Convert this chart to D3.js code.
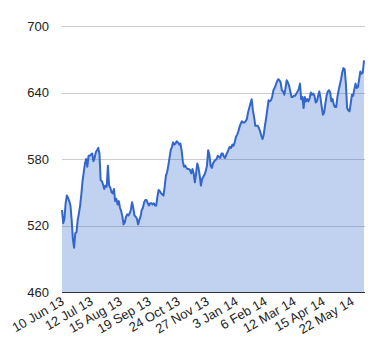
<!DOCTYPE html>
<html>
<head>
<meta charset="utf-8">
<script src="https://cdn.jsdelivr.net/npm/d3@7/dist/d3.min.js"></script>
<style>
  html, body { margin: 0; padding: 0; background: #fff; }
  svg { display: block; }
  text { font-family: Arial, "Liberation Sans", sans-serif; }
</style>
</head>
<body>
<svg id="chart" width="380" height="360"></svg>
<script>
// Daily closing values (trading days)
const values = [
  534, 522, 526, 540, 547, 545, 542, 538, 525, 508,
  500, 513, 514, 525, 531, 538, 548, 560, 568, 576,
  580, 573, 583, 583, 584, 585, 578, 581, 586, 588,
  590, 585, 561, 560, 557, 553, 556, 555, 574, 556,
  554, 550, 549, 553, 542, 544, 539, 542, 536, 533,
  528, 521, 523, 528, 530, 529, 531, 534, 541, 536,
  529, 528, 526, 521, 525, 528, 534, 536, 541, 543,
  543, 540, 538, 540, 540, 539, 540, 538, 538, 546,
  552, 551, 549, 548, 547, 555, 565, 568, 574, 581,
  588, 591, 595, 593, 594, 596, 595, 593, 594, 588,
  578, 573, 574, 572, 571, 571, 570, 567, 571, 567,
  559, 567, 576, 572, 565, 556, 562, 564, 566, 569,
  574, 588, 584, 574, 572, 576, 578, 579, 580, 583,
  582, 581, 585, 585, 582, 581, 584, 586, 589, 591,
  590, 593, 592, 595, 600, 602, 605, 609, 612, 614,
  613, 613, 614, 616, 622, 626, 630, 634, 624, 618,
  610, 610, 610, 608, 605, 601, 598, 602, 610, 617,
  625, 633, 632, 633, 636, 642, 644, 647, 650, 652,
  651, 649, 642, 641, 638, 644, 651, 649, 646, 641,
  636, 636, 637, 637, 639, 641, 643, 648, 634, 636,
  626, 636, 632, 634, 632, 635, 640, 638, 639, 637,
  631, 632, 637, 641, 635, 627, 620, 622, 630, 637,
  641, 642, 640, 632, 634, 629, 627, 627, 636, 642,
  647, 652, 658, 662, 661, 648, 626, 624, 623, 630,
  638, 637, 643, 648, 644, 645, 652, 659, 657, 658,
  669
];
// X tick labels and the data index where each one falls
const tickLabels = ["10 Jun 13", "12 Jul 13", "15 Aug 13", "19 Sep 13", "24 Oct 13",
  "27 Nov 13", "3 Jan 14", "6 Feb 14", "12 Mar 14", "15 Apr 14", "22 May 14"];
const tickIndex = [0, 24, 48, 72, 96, 120, 144, 168, 192, 216, 240];
const yTicks = [460, 520, 580, 640, 700];

const svg = d3.select("#chart");
const mLeft = 62, mRight = 364, mTop = 26, mBottom = 292;

const x = d3.scaleLinear().domain([0, values.length - 1]).range([mLeft, mRight]);
const y = d3.scaleLinear().domain([460, 700]).range([mBottom, mTop]);

// gridlines
svg.append("g").selectAll("line")
  .data(yTicks.filter(d => d !== 460))
  .join("line")
  .attr("x1", mLeft).attr("x2", mRight + 1)
  .attr("y1", d => Math.round(y(d)) + 0.5).attr("y2", d => Math.round(y(d)) + 0.5)
  .attr("stroke", "#cccccc").attr("stroke-width", 1);

// area
const area = d3.area()
  .x((d, i) => x(i))
  .y0(y(460))
  .y1(d => y(d));
svg.append("path")
  .datum(values)
  .attr("d", area)
  .attr("fill", "#3366cc")
  .attr("fill-opacity", 0.3);

// line
const line = d3.line()
  .x((d, i) => x(i))
  .y(d => y(d));
svg.append("path")
  .datum(values)
  .attr("d", line)
  .attr("fill", "none")
  .attr("stroke", "#3366cc")
  .attr("stroke-width", 2)
  .attr("stroke-linejoin", "round");

// baseline
svg.append("line")
  .attr("x1", mLeft).attr("x2", mRight + 1)
  .attr("y1", Math.round(y(460)) + 0.5).attr("y2", Math.round(y(460)) + 0.5)
  .attr("stroke", "#333333").attr("stroke-width", 1);

// y axis labels
svg.append("g").selectAll("text")
  .data(yTicks)
  .join("text")
  .attr("x", 49)
  .attr("y", d => y(d))
  .attr("dy", "0.35em")
  .attr("text-anchor", "end")
  .attr("font-size", 13)
  .attr("fill", "#222222")
  .text(d => d);

// x axis labels (rotated)
svg.append("g").selectAll("text")
  .data(tickLabels)
  .join("text")
  .attr("transform", (d, i) => `translate(${x(tickIndex[i]) + 3},${mBottom + 12}) rotate(-30)`)
  .attr("text-anchor", "end")
  .attr("font-size", 13)
  .attr("fill", "#222222")
  .text(d => d);
</script>
</body>
</html>
